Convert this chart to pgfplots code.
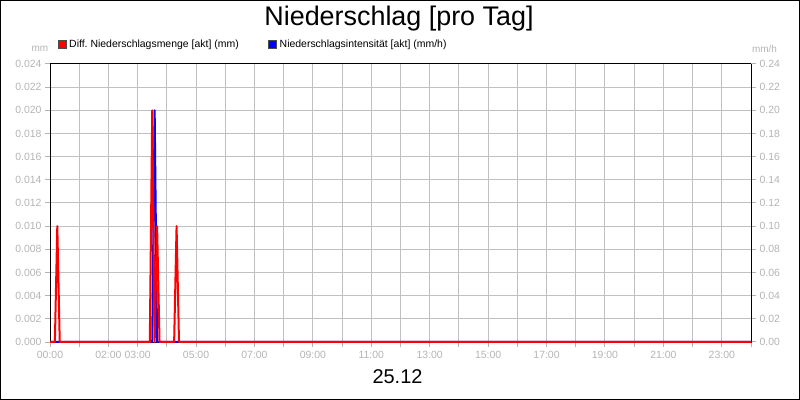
\documentclass[border=0pt]{standalone}
\usepackage{fontspec}
\setmainfont{Liberation Sans}
\usepackage{pgfplots}
\usepackage{pgfplotstable}
\pgfplotsset{compat=1.18}
\frenchspacing

\definecolor{gridgray}{HTML}{C0C0C0}
\definecolor{labgray}{HTML}{B4B4B4}
\definecolor{serred}{HTML}{FF0000}
\definecolor{serblue}{HTML}{0000FF}

% Diff. Niederschlagsmenge [akt] (mm), time in hours
\pgfplotstableread{
t     v
0      0
0.1667 0
0.25   0.010
0.3333 0
3.4167 0
3.5    0.020
3.5833 0
3.6667 0.010
3.75   0
4.25   0
4.3333 0.010
4.4167 0
24     0
}\mengetab

% Niederschlagsintensitaet [akt] (mm/h)
\pgfplotstableread{
t      v
0      0
3.5    0
3.5833 0.20
3.6667 0
24     0
}\intenstab

\pgfplotsset{
  common/.style={
    scale only axis,
    width=701bp, height=278bp,
    at={(50bp,58bp)}, anchor=south west,
    xmin=0, xmax=24,
    clip=false,
    scaled y ticks=false,
  },
}

\begin{document}
\begin{tikzpicture}
\useasboundingbox (0,0) rectangle (800bp,400bp);
\draw[black, line width=1bp] (0.5bp,0.5bp) rectangle (799.5bp,399.5bp);

% grid, frame, left ticks
\begin{axis}[common,
  ymin=0, ymax=0.024,
  ytick={0,0.002,0.004,0.006,0.008,0.010,0.012,0.014,0.016,0.018,0.020,0.022,0.024},
  xtick={0,...,24},
  xticklabels={00:00,,02:00,03:00,,05:00,,07:00,,09:00,,11:00,,13:00,,15:00,,17:00,,19:00,,21:00,,23:00,},
  grid=major,
  grid style={gridgray, line width=1bp},
  tick align=outside,
  major tick length=5bp,
  xtick pos=left, ytick pos=left,
  tick style={labgray, line width=1bp},
  axis line style={black, line width=1bp},
  ticklabel style={font=\fontsize{10.5}{12}\selectfont, text=labgray},
  /pgf/number format/assume math mode=true,
  yticklabel style={/pgf/number format/fixed, /pgf/number format/fixed zerofill, /pgf/number format/precision=3},
  xticklabel style={yshift=-1bp},
]
\end{axis}

% right axis, intensity
\begin{axis}[common,
  ymin=0, ymax=0.24,
  axis y line*=right, axis x line=none,
  ytick={0,0.02,0.04,0.06,0.08,0.10,0.12,0.14,0.16,0.18,0.20,0.22,0.24},
  tick align=outside,
  major tick length=5bp,
  tick style={labgray, line width=1bp},
  axis line style={black, line width=1bp},
  ticklabel style={font=\fontsize{10.5}{12}\selectfont, text=labgray},
  /pgf/number format/assume math mode=true,
  yticklabel style={/pgf/number format/fixed, /pgf/number format/fixed zerofill, /pgf/number format/precision=2},
]
\addplot[serblue, line width=2bp, line join=round] table[x=t, y=v] {\intenstab};
\end{axis}

% amount, drawn on top
\begin{axis}[common, ymin=0, ymax=0.024, hide axis]
\addplot[serred, line width=2bp, line join=round] table[x=t, y=v] {\mengetab};
\end{axis}

% title, units, legend, date
\node[anchor=base] at (399bp,374bp) {\fontsize{27}{31}\selectfont Niederschlag [pro Tag]};
\node[anchor=base, text=labgray, inner sep=0] at (40bp,348bp) {\fontsize{10}{12}\selectfont mm};
\node[anchor=base, text=labgray, inner sep=0] at (764.5bp,347.7bp) {\fontsize{10}{12}\selectfont mm/h};

\filldraw[fill=serred, draw=black!70, line width=0.5bp] (58.5bp,352bp) rectangle (66bp,359.5bp);
\node[anchor=base west, inner sep=0] at (69bp,352bp) {\fontsize{10.5}{12}\selectfont Diff. Niederschlagsmenge [akt] (mm)};
\filldraw[fill=serblue, draw=black!70, line width=0.5bp] (268.5bp,352bp) rectangle (276bp,359.5bp);
\node[anchor=base west, inner sep=0] at (279.5bp,352bp) {\fontsize{10.5}{12}\selectfont Niederschlagsintensität [akt] (mm/h)};

\node[anchor=base] at (397.5bp,16.7bp) {\fontsize{20}{24}\selectfont 25.12};
\end{tikzpicture}
\end{document}
